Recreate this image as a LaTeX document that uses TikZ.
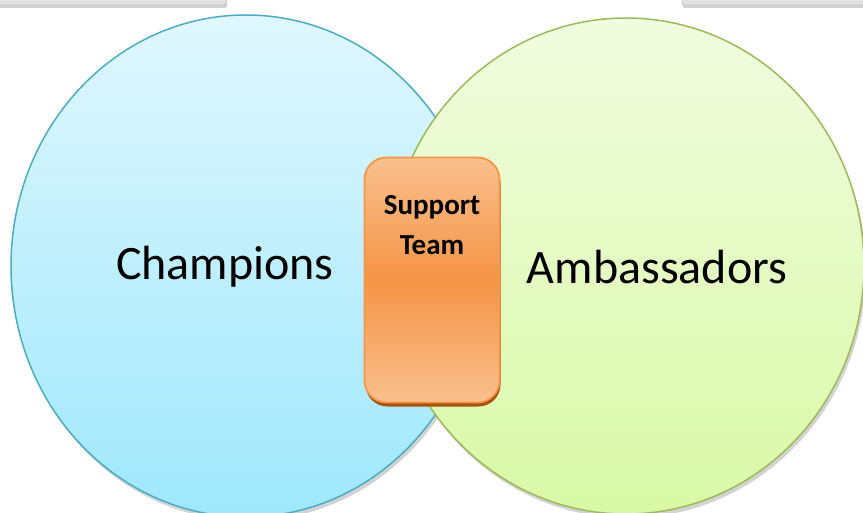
\documentclass[tikz,border=0pt]{standalone}
\usepackage{fontspec}
\setmainfont{Carlito}
\usepackage{tikz}
\usetikzlibrary{shapes.geometric,shadows,positioning}
\definecolor{chblue}{HTML}{4BACC6}
\definecolor{chtop}{HTML}{E0F7FE}
\definecolor{chbot}{HTML}{9FE8FC}
\definecolor{amgreen}{HTML}{9BBB59}
\definecolor{amtop}{HTML}{F1FCE0}
\definecolor{ambot}{HTML}{D9F9A6}
\definecolor{storange}{HTML}{F79646}
\definecolor{stlight}{HTML}{F9C08E}
\definecolor{stdark}{HTML}{F59446}
\definecolor{stshadow}{HTML}{A65410}

\begin{document}
\begin{tikzpicture}[
  x=1pt, y=-1pt,
  group/.style={ellipse, draw=#1, line width=1.5pt, inner sep=0pt,
    drop shadow={shadow xshift=2pt, shadow yshift=-4pt, opacity=0.35}},
  bar/.style={draw=gray!70, rounded corners=2pt, top color=gray!8, bottom color=gray!25,
    drop shadow={shadow xshift=1pt, shadow yshift=-3pt, opacity=0.35}},
  grouplabel/.style={font=\fontsize{48}{54}\selectfont},
]
\useasboundingbox (0,0) rectangle (863,513);
% partly visible bars on top
\node[bar, minimum width=240pt, minimum height=30pt] (barleft) at (106,-10) {};
\node[bar, minimum width=200pt, minimum height=30pt] (barright) at (782,-10) {};
% the two groups
\node[group=chblue, top color=chtop, bottom color=chbot,
  minimum width=470pt, minimum height=502pt] (champ) at (246,266) {};
\node[group=amgreen, top color=amtop, bottom color=ambot,
  minimum width=476pt, minimum height=496pt] (amb) at (626,266) {};
\node[grouplabel] (champlbl) at (225,267) {Champions};
\node[grouplabel] (amblbl) at (657,267) {Ambassadors};
% overlap
\node[draw=storange, line width=1.8pt, rounded corners=22pt,
  minimum width=135pt, minimum height=245pt,
  top color=stlight, bottom color=stlight, middle color=stdark,
  drop shadow={shadow xshift=1pt, shadow yshift=-4pt, fill=stshadow, opacity=1}] (team) at (432,280) {};
\node[font=\bfseries\fontsize{29}{40}\selectfont, align=center, anchor=north] (teamlbl)
  at ([yshift=-35pt]team.north) {Support\\Team};
\end{tikzpicture}
\end{document}
